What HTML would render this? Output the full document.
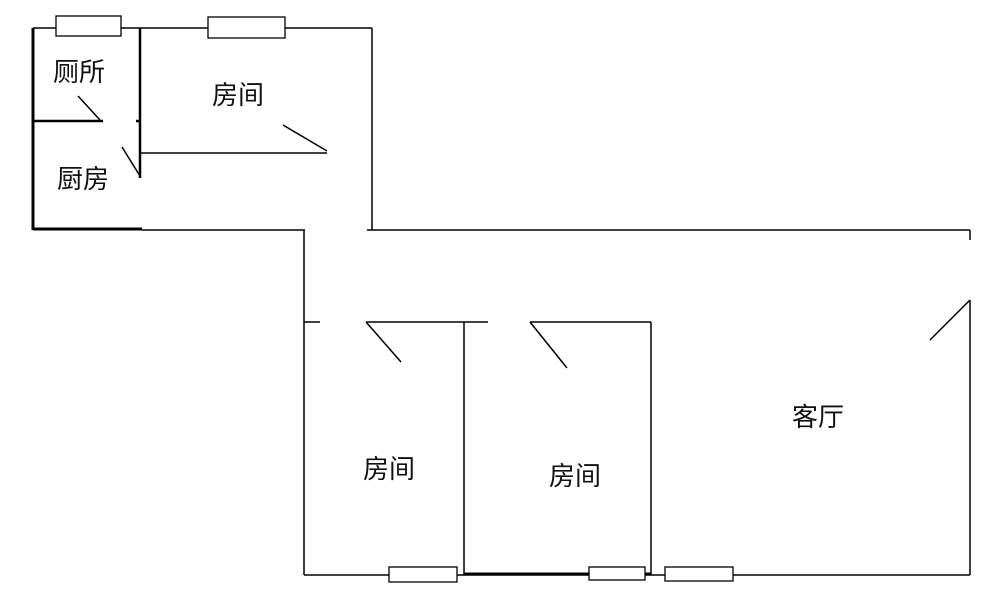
<!DOCTYPE html>
<html><head><meta charset="utf-8"><style>
html,body{margin:0;padding:0;background:#fff;width:1000px;height:615px;overflow:hidden}
svg text{font-family:"Liberation Sans","Noto Sans CJK SC",sans-serif;font-size:26px;fill:#111}
</style></head><body>
<svg width="1000" height="615" xmlns="http://www.w3.org/2000/svg">
<g stroke="#000" fill="none" stroke-width="1.5">
<line x1="33" y1="28" x2="372" y2="28"/>
<line x1="33" y1="28" x2="33" y2="230" stroke-width="3"/>
<line x1="140" y1="28" x2="140" y2="178" stroke-width="2.5"/>
<line x1="136" y1="121" x2="141" y2="121" stroke-width="2.5"/>
<line x1="33" y1="121" x2="103" y2="121" stroke-width="2.5"/>
<line x1="141" y1="153" x2="327" y2="153"/>
<line x1="283" y1="125" x2="327" y2="151"/>
<line x1="78" y1="96" x2="100" y2="120"/>
<line x1="122" y1="147" x2="140" y2="176"/>
<line x1="372" y1="28" x2="372" y2="230"/>
<line x1="33" y1="229" x2="142" y2="229" stroke-width="3"/>
<line x1="142" y1="230" x2="305" y2="230"/>
<line x1="367" y1="230" x2="970" y2="230"/>
<line x1="970" y1="230" x2="970" y2="240"/>
<line x1="970" y1="300" x2="970" y2="575"/>
<line x1="930" y1="340" x2="970" y2="300"/>
<line x1="304" y1="230" x2="304" y2="575"/>
<line x1="304" y1="575" x2="970" y2="575"/>
<line x1="464" y1="574" x2="651" y2="574" stroke-width="3"/>
<line x1="304" y1="322" x2="320" y2="322"/>
<line x1="366" y1="322" x2="488" y2="322"/>
<line x1="366" y1="322" x2="401" y2="362"/>
<line x1="464" y1="322" x2="464" y2="575"/>
<line x1="530" y1="322" x2="651" y2="322"/>
<line x1="530" y1="322" x2="567" y2="368"/>
<line x1="651" y1="322" x2="651" y2="575"/>
</g>
<g stroke="#000" fill="#fff" stroke-width="1.3">
<rect x="56" y="16" width="65" height="20"/>
<rect x="208" y="17" width="77" height="21"/>
<rect x="389" y="567" width="68" height="15"/>
<rect x="589" y="567" width="56" height="13"/>
<rect x="665" y="567" width="68" height="14"/>
</g>
<text x="53" y="81">厕所</text>
<text x="212" y="104">房间</text>
<text x="57" y="188">厨房</text>
<text x="363" y="478">房间</text>
<text x="549" y="485">房间</text>
<text x="792" y="426">客厅</text>
</svg>
</body></html>
